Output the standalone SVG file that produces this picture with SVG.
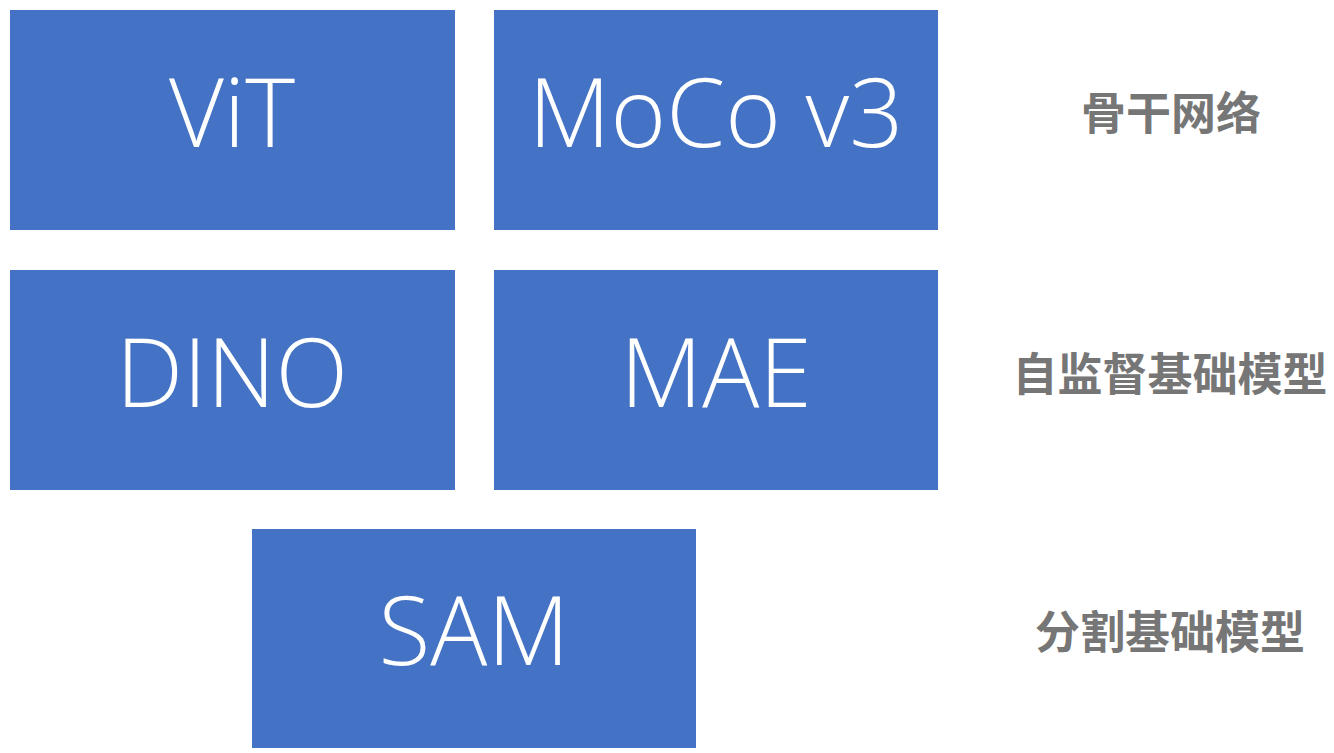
<svg xmlns="http://www.w3.org/2000/svg" width="1334" height="753" viewBox="0 0 1334 753">
<style>
.box{fill:#4472C4;}
.t{fill:#FFFFFF;font-family:"Open Sans","Liberation Sans",sans-serif;font-weight:300;font-size:95px;text-anchor:middle;dominant-baseline:central;}
.lab{fill:#767676;font-family:"Noto Sans CJK SC","Noto Sans",sans-serif;font-weight:700;font-size:45px;text-anchor:middle;dominant-baseline:central;}
</style>
<rect width="1334" height="753" fill="#FFFFFF"/>
<g id="vit"><rect class="box" x="10" y="10" width="445" height="220"/><text class="t" x="232" y="110">ViT</text></g>
<g id="moco"><rect class="box" x="494" y="10" width="444" height="220"/><text class="t" x="716" y="110">MoCo v3</text></g>
<g id="dino"><rect class="box" x="10" y="270" width="445" height="220"/><text class="t" x="232" y="370">DINO</text></g>
<g id="mae"><rect class="box" x="494" y="270" width="444" height="220"/><text class="t" x="716" y="370">MAE</text></g>
<g id="sam"><rect class="box" x="252" y="529" width="444" height="219"/><text class="t" x="474" y="628">SAM</text></g>
<g id="label-backbone"><text class="lab" x="1171" y="110">骨干网络</text></g>
<g id="label-ssl"><text class="lab" x="1170" y="371">自监督基础模型</text></g>
<g id="label-seg"><text class="lab" x="1170" y="629">分割基础模型</text></g>
<g id="connectors"></g>
</svg>
